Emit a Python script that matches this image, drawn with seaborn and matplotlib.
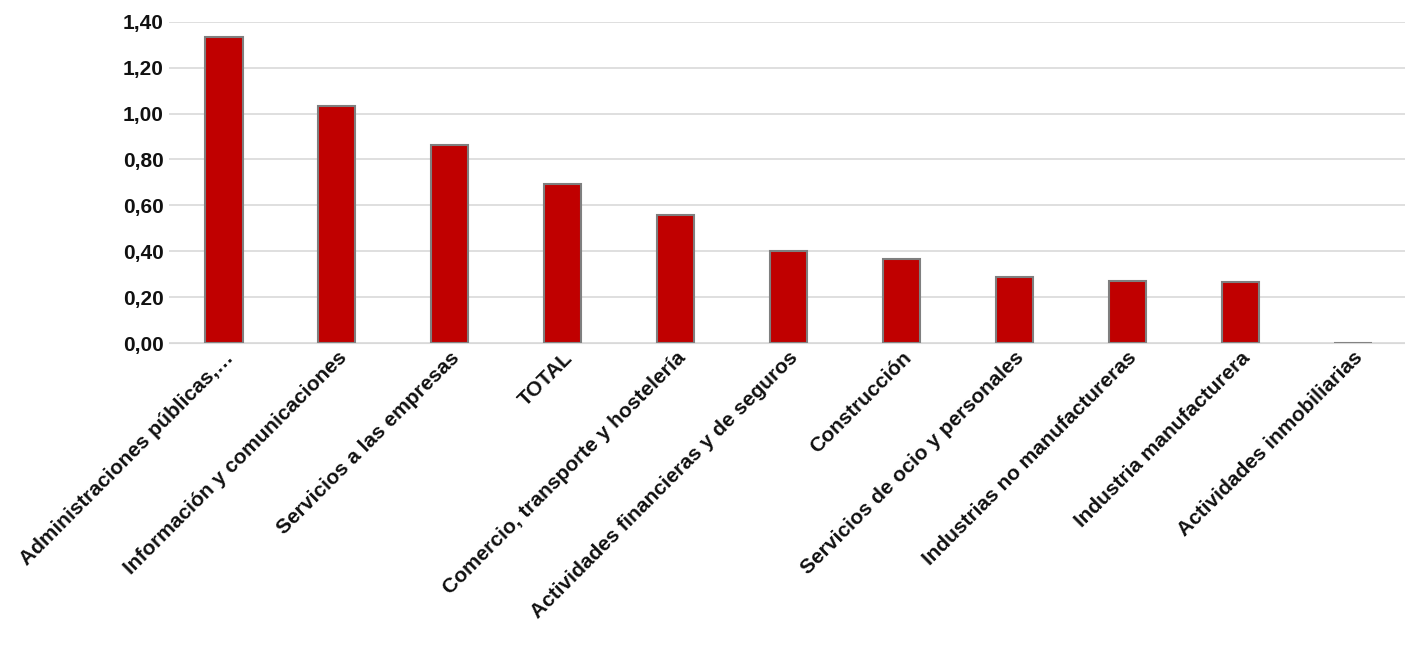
import matplotlib
matplotlib.use("Agg")
import matplotlib.pyplot as plt
import seaborn as sns
import pandas as pd
from matplotlib.ticker import FuncFormatter

sectors = [
    "Administraciones públicas,…",
    "Información y comunicaciones",
    "Servicios a las empresas",
    "TOTAL",
    "Comercio, transporte y hostelería",
    "Actividades financieras y de seguros",
    "Construcción",
    "Servicios de ocio y personales",
    "Industrias no manufactureras",
    "Industria manufacturera",
    "Actividades inmobiliarias",
]
values = [1.334, 1.034, 0.864, 0.693, 0.558, 0.401, 0.366, 0.288, 0.270, 0.266, 0.0]

df = pd.DataFrame({"sector": sectors, "value": values})

sns.set_style("white")
plt.rcParams["font.family"] = ["Liberation Sans", "DejaVu Sans"]

fig = plt.figure(figsize=(14.05, 6.54), dpi=100)
ax = fig.add_axes([0.12, 0.475, 0.88, 0.492])

sns.barplot(data=df, x="sector", y="value", color="#C00000", width=0.33,
            edgecolor="#7f7f7f", linewidth=1.5, saturation=1, ax=ax)

ax.set_ylim(0, 1.40)
ax.set_yticks([0, 0.2, 0.4, 0.6, 0.8, 1.0, 1.2, 1.4])
ax.yaxis.set_major_formatter(FuncFormatter(lambda v, p: f"{v:.2f}".replace(".", ",")))
ax.grid(axis="y", color="#d9d9d9", linewidth=1.2)
ax.set_axisbelow(True)
for s in ["top", "right", "left"]:
    ax.spines[s].set_visible(False)
ax.spines["bottom"].set_color("#d9d9d9")
ax.set_xlabel("")
ax.set_ylabel("")
ax.tick_params(axis="both", length=0, labelsize=15, labelcolor="#111111")
for lbl in ax.get_yticklabels():
    lbl.set_fontweight("bold")
ax.set_xticks(range(len(sectors)))
ax.set_xticklabels(sectors, rotation=45, ha="right", rotation_mode="anchor",
                   fontweight="bold", fontsize=15, color="#111111")
ax.set_xlim(-0.49, 10.46)

fig.savefig("out.png", dpi=100)
